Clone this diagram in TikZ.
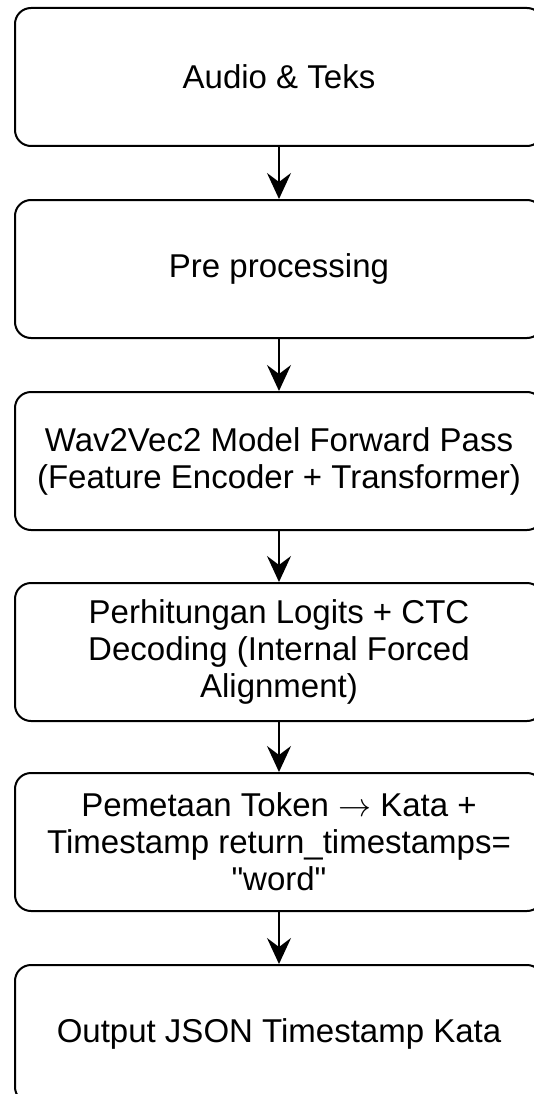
\RequirePackage{fix-cm}
\documentclass[tikz,border=0pt]{standalone}
\usepackage{fontspec}
\setmainfont{Liberation Sans}[Ligatures=TeXOff]
\usetikzlibrary{arrows.meta}
\begin{document}
\begin{tikzpicture}[x=1pt,y=-1pt,
  stepbox/.style={draw=black, line width=2pt, rounded corners=16pt, fill=white,
    minimum width=528pt, minimum height=138pt, inner sep=0pt,
    align=center, font=\fontsize{33}{37}\selectfont},
  flow/.style={draw=black, line width=2pt,
    -{Stealth[length=26pt,width=24pt,inset=9pt]}}]
\useasboundingbox[fill=white] (0,0) rectangle (533,1094);
\node[stepbox] (a) at (279,77) {Audio \& Teks};
\node[stepbox] (b) at (279,269) {Pre processing};
\node[stepbox] (c) at (279,461) {Wav2Vec2 Model Forward Pass\\(Feature Encoder + Transformer)};
\node[stepbox] (d) at (279,652) {Perhitungan Logits + CTC\\Decoding (Internal Forced\\Alignment)};
\node[stepbox] (e) at (279,842) {Pemetaan Token $\rightarrow$ Kata +\\Timestamp return\_timestamps=\\"word"};
\node[stepbox] (f) at (279,1034) {Output JSON Timestamp Kata};
\draw[flow] (a) -- (b);
\draw[flow] (b) -- (c);
\draw[flow] (c) -- (d);
\draw[flow] (d) -- (e);
\draw[flow] (e) -- (f);
\end{tikzpicture}
\end{document}
